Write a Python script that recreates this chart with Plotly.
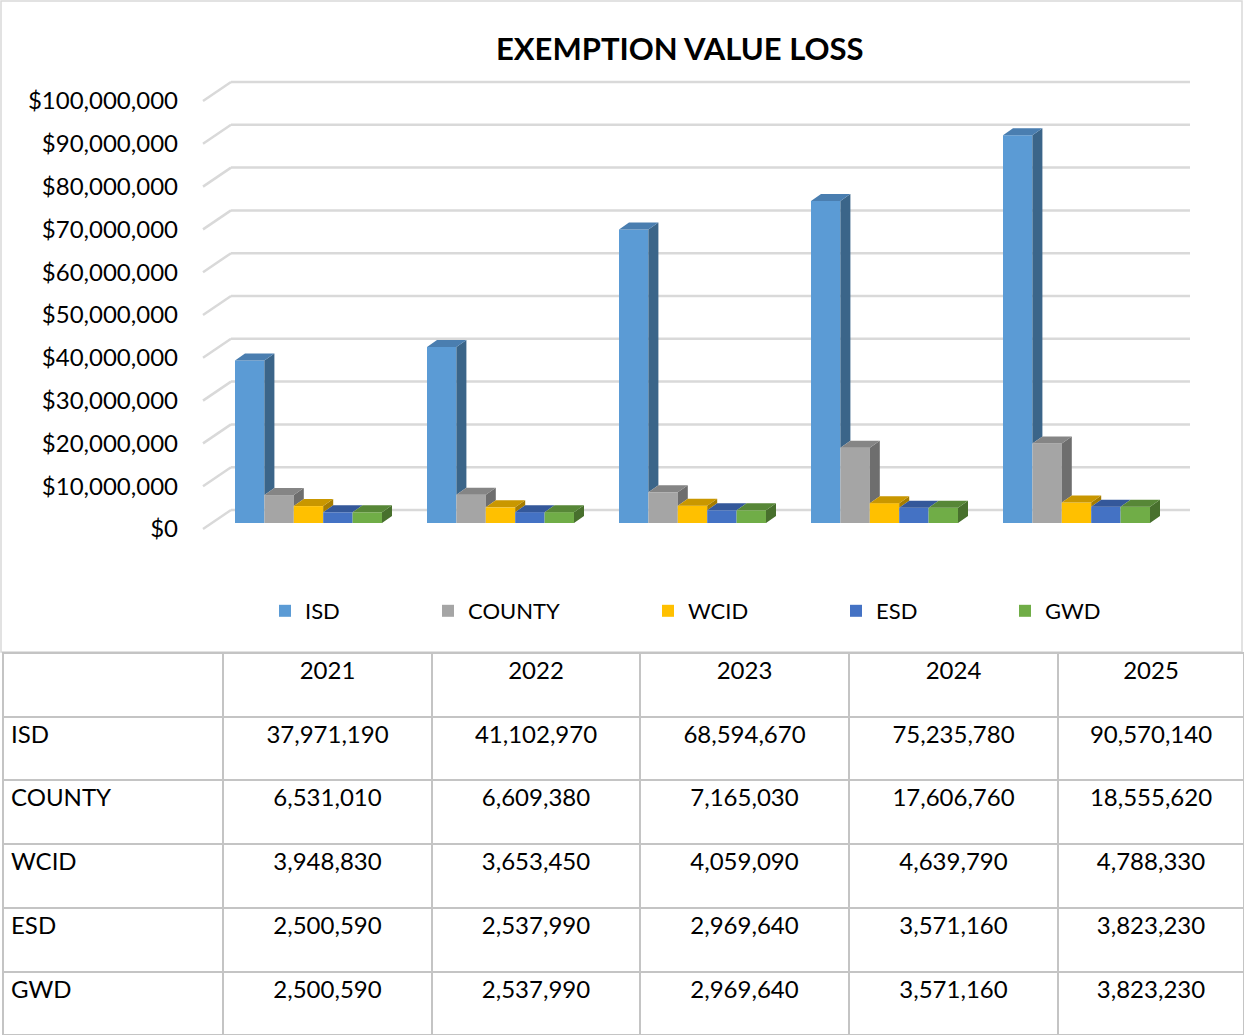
import plotly.graph_objects as go

# ---------------- data ----------------
YEARS = ["2021", "2022", "2023", "2024", "2025"]
SERIES = ["ISD", "COUNTY", "WCID", "ESD", "GWD"]
ISD = [37971190, 41102970, 68594670, 75235780, 90570140]
COUNTY = [6531010, 6609380, 7165030, 17606760, 18555620]
WCID = [3948830, 3653450, 4059090, 4639790, 4788330]
ESD = [2500590, 2537990, 2969640, 3571160, 3823230]
GWD = [2500590, 2537990, 2969640, 3571160, 3823230]
Y_TICKS = [0, 10000000, 20000000, 30000000, 40000000, 50000000,
           60000000, 70000000, 80000000, 90000000, 100000000]
Y_TICK_TEXT = ["$0", "$10,000,000", "$20,000,000", "$30,000,000", "$40,000,000",
               "$50,000,000", "$60,000,000", "$70,000,000", "$80,000,000",
               "$90,000,000", "$100,000,000"]
VALUES = [ISD, COUNTY, WCID, ESD, GWD]

# ---------------- styles ----------------
FRONT = ["#5B9BD5", "#A5A5A5", "#FFC000", "#4472C4", "#70AD47"]
TOP = ["#4A7EB0", "#858585", "#C99700", "#34589A", "#578737"]
SIDE = ["#3B6589", "#6E6E6E", "#A67D00", "#2C4A82", "#48702D"]
FONT = "Lato, 'Open Sans', sans-serif"
GRID = "#D9D9D9"

W, H = 1244, 1035
PX_PER_CAT = 192.0
CAT0_PX = 308.5
Y0_PX = 529.0
PX_PER_UNIT = 4.28e-6


def xu(px):
    return (px - CAT0_PX) / PX_PER_CAT


def yshift(px):
    return px / PX_PER_UNIT


X_RANGE = [xu(0), xu(W)]
Y_RANGE = [-(H - Y0_PX) / PX_PER_UNIT, Y0_PX / PX_PER_UNIT]

BAR_W = 29.4 / PX_PER_CAT
GROUP_LEFT = xu(235)
BASE = yshift(6)
DX = 10 / PX_PER_CAT
DY = yshift(7)
WALL_DY = yshift(19)
WALL_X0 = xu(231)
WALL_X1 = xu(1190)
DIAG_X0 = xu(203)

fig = go.Figure()
cats = list(range(len(YEARS)))
legend_ids = ["legend", "legend2", "legend3", "legend4", "legend5"]

# front faces (real bars)
for j, (name, vals) in enumerate(zip(SERIES, VALUES)):
    fig.add_trace(go.Bar(
        x=cats, y=vals, base=BASE, offset=GROUP_LEFT + j * BAR_W, width=BAR_W,
        name=name, marker=dict(color=FRONT[j], line=dict(width=0)),
        legend=legend_ids[j], hoverinfo="skip"))

# side and top faces derived from the data
for j, vals in enumerate(VALUES):
    sx, sy, tx, ty = [], [], [], []
    for i in cats:
        v = vals[i]
        xl = i + GROUP_LEFT + j * BAR_W
        xr = xl + BAR_W
        lower = VALUES[j + 1][i] if j + 1 < len(VALUES) else 0
        if lower < v:
            sx += [xr, xr + DX, xr + DX, xr, None]
            sy += [BASE + lower, BASE + lower + DY, BASE + v + DY, BASE + v, None]
        tx += [xl, xl + DX, xr + DX, xr, None]
        ty += [BASE + v, BASE + v + DY, BASE + v + DY, BASE + v, None]
    fig.add_trace(go.Scatter(x=sx, y=sy, mode="lines", fill="toself",
                             fillcolor=SIDE[j], line=dict(width=0, color=SIDE[j]),
                             showlegend=False, hoverinfo="skip"))
    fig.add_trace(go.Scatter(x=tx, y=ty, mode="lines", fill="toself",
                             fillcolor=TOP[j], line=dict(width=0, color=TOP[j]),
                             showlegend=False, hoverinfo="skip"))

# gridlines (back wall + side diagonal)
shapes = []
for t in Y_TICKS:
    shapes.append(dict(type="line", xref="x", yref="y", x0=WALL_X0, x1=WALL_X1,
                       y0=t + WALL_DY, y1=t + WALL_DY, layer="below",
                       line=dict(color=GRID, width=2.5)))
    shapes.append(dict(type="line", xref="x", yref="y", x0=DIAG_X0, x1=WALL_X0,
                       y0=t, y1=t + WALL_DY, layer="below",
                       line=dict(color=GRID, width=2.5)))
# chart border
shapes.append(dict(type="rect", xref="paper", yref="paper", x0=1 / W, x1=1242 / W,
                   y0=1 - 652 / H, y1=1 - 1 / H, layer="below",
                   line=dict(color=GRID, width=1.5)))

# table
def fmt(v):
    return f"{v:,}"

cell_cols = [SERIES] + [[fmt(VALUES[s][k]) for s in range(len(SERIES))] for k in range(len(YEARS))]
ROW_H = 63.7
fig.add_trace(go.Table(
    domain=dict(x=[3 / W, 1], y=[0, (H - 653) / H]),
    columnwidth=[220, 209, 208, 209, 209, 186],
    header=dict(values=[""] + YEARS, height=ROW_H,
                align=["left"] + ["center"] * 5,
                fill=dict(color="white"),
                line=dict(color="#C4C4C4", width=2),
                font=dict(family=FONT, size=24, color="#000000")),
    cells=dict(values=cell_cols, height=ROW_H,
               align=["left"] + ["center"] * 5,
               fill=dict(color="white"),
               line=dict(color="#C4C4C4", width=2),
               font=dict(family=FONT, size=24, color="#000000")),
))

LEGEND_CENTERS = [287, 450, 670, 858, 1027]
legends = {}
for j, lid in enumerate(legend_ids):
    legends[lid] = dict(x=(LEGEND_CENTERS[j] - 22) / W, xanchor="left",
                        y=1 - 611 / H, yanchor="middle", orientation="h",
                        bgcolor="rgba(0,0,0,0)", borderwidth=0,
                        font=dict(family=FONT, size=22, color="#000000"))

fig.update_layout(
    width=W, height=H, margin=dict(l=0, r=0, t=0, b=0),
    paper_bgcolor="white", plot_bgcolor="white",
    barmode="overlay", showlegend=True,
    xaxis=dict(range=X_RANGE, visible=False, domain=[0, 1], fixedrange=True),
    yaxis=dict(range=Y_RANGE, domain=[0, 1], anchor="free", position=178 / W,
               tickvals=Y_TICKS, ticktext=Y_TICK_TEXT, ticks="",
               showgrid=False, zeroline=False, showline=False, fixedrange=True,
               tickfont=dict(family=FONT, size=24, color="#000000")),
    shapes=shapes,
    annotations=[dict(text="<b>EXEMPTION VALUE LOSS</b>", xref="paper", yref="paper",
                      x=680 / W, y=1 - 48 / H, xanchor="center", yanchor="middle",
                      showarrow=False, font=dict(family=FONT, size=31, color="#000000"))],
    **legends,
)

fig.write_html("out.html")
